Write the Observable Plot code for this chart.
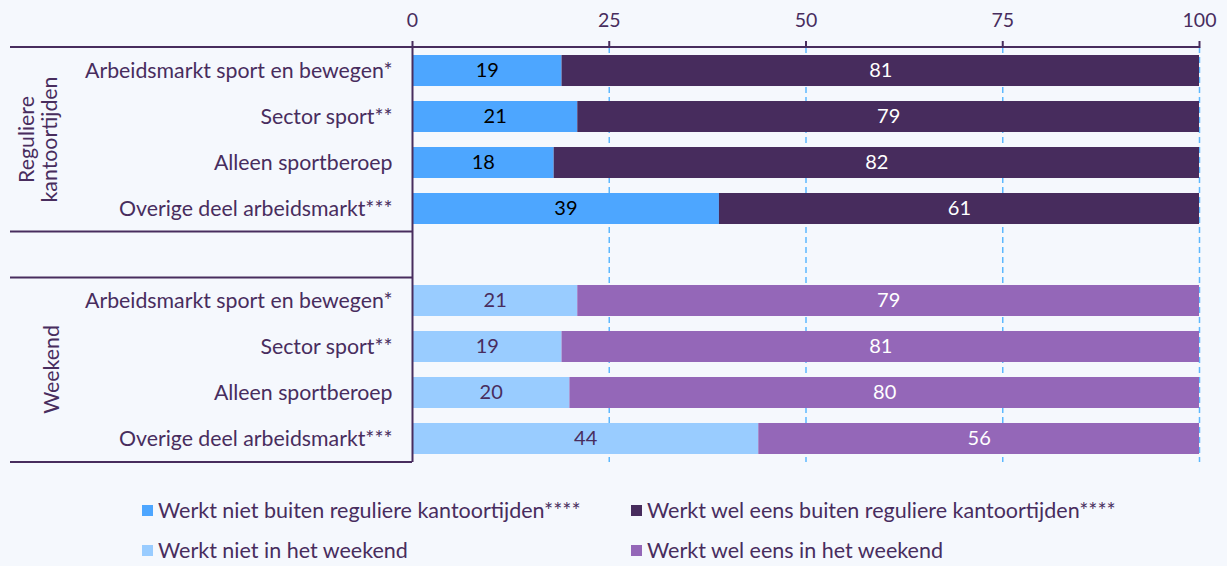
<!DOCTYPE html>
<html>
<head>
<meta charset="utf-8">
<script src="https://cdn.jsdelivr.net/npm/d3@7"></script>
<script src="https://cdn.jsdelivr.net/npm/@observablehq/plot@0.6"></script>
<style>
  html, body { margin: 0; padding: 0; background: #f5f8fd; }
  body { width: 1227px; height: 566px; overflow: hidden; font-family: Lato, "Open Sans", sans-serif; color: #482d5e; }
  #chart svg { display: block; }
  #legend { position: relative; height: 91px; }
  .item { position: absolute; display: flex; align-items: center; font-size: 21.5px; white-space: nowrap; }
  .sw { width: 11px; height: 11px; margin-right: 5px; }
</style>
</head>
<body>
<div id="chart"></div>
<div id="legend"></div>
<script>
// ---- data ----
const categories = ["Arbeidsmarkt sport en bewegen*", "Sector sport**", "Alleen sportberoep", "Overige deel arbeidsmarkt***"];
const groups = ["Reguliere kantoortijden", "Weekend"];
const regulierNiet = [19, 21, 18, 39];
const regulierWel = [81, 79, 82, 61];
const weekendNiet = [21, 19, 20, 44];
const weekendWel = [79, 81, 80, 56];
const seriesNames = [
  "Werkt niet buiten reguliere kantoortijden****",
  "Werkt wel eens buiten reguliere kantoortijden****",
  "Werkt niet in het weekend",
  "Werkt wel eens in het weekend"
];
const seriesColors = ["#4da6ff", "#472c5d", "#99ccff", "#9467b8"];
const labelColors = ["#000000", "#ffffff", "#482d5e", "#ffffff"];
const xTicks = [0, 25, 50, 75, 100];

// ---- build table ----
const keys = ["R0", "R1", "R2", "R3", "gap", "W0", "W1", "W2", "W3"];
const keyLabel = {};
categories.forEach((c, i) => { keyLabel["R" + i] = c; keyLabel["W" + i] = c; });
keyLabel.gap = "";
const rows = [];
categories.forEach((c, i) => {
  rows.push({key: "R" + i, series: seriesNames[0], value: regulierNiet[i], fc: seriesColors[0], tc: labelColors[0]});
  rows.push({key: "R" + i, series: seriesNames[1], value: regulierWel[i], fc: seriesColors[1], tc: labelColors[1]});
});
categories.forEach((c, i) => {
  rows.push({key: "W" + i, series: seriesNames[2], value: weekendNiet[i], fc: seriesColors[2], tc: labelColors[2]});
  rows.push({key: "W" + i, series: seriesNames[3], value: weekendWel[i], fc: seriesColors[3], tc: labelColors[3]});
});

const textColor = "#482d5e";
const W = 1227, H = 475, mL = 412, mR = 28, mT = 47, mB = 13;

const plot = Plot.plot({
  width: W, height: H,
  marginLeft: mL, marginRight: mR, marginTop: mT, marginBottom: mB,
  style: {background: "transparent", fontFamily: "Lato, 'Open Sans', sans-serif", fontSize: "19px", color: textColor},
  x: {domain: [0, 100]},
  y: {domain: keys, paddingInner: 0.326, paddingOuter: 0.174, round: false},
  color: {type: "identity"},
  marks: [
    Plot.ruleX(xTicks.filter(t => t > 0), {stroke: "#5cb8ff", strokeWidth: 1.5, strokeDasharray: "6,4"}),
    Plot.barX(rows, Plot.stackX({x: "value", y: "key", fill: "fc"})),
    Plot.text(rows, Plot.stackX({x: "value", y: "key", text: d => String(d.value), fill: "tc", fontSize: 20})),
    Plot.ruleX([0], {stroke: textColor, strokeWidth: 2}),
    Plot.axisX({anchor: "top", ticks: xTicks, tickSize: 7, tickPadding: 14, label: null, stroke: textColor, strokeWidth: 2, fill: textColor, fontSize: 19.5}),
    Plot.axisY({tickSize: 0, tickPadding: 20, tickFormat: k => keyLabel[k], label: null, fill: textColor, fontSize: 21.3})
  ]
});
document.getElementById("chart").appendChild(plot);

// ---- decorations derived from scales ----
const sx = plot.scale("x"), sy = plot.scale("y");
const bw = sy.bandwidth;
const yStart = k => sy.apply(k);
const step = yStart("gap") - yStart("R3");
const gapHalf = (step - bw) / 2;
const x0 = sx.apply(0), x100 = sx.apply(100);
const svg = d3.select(plot);
const g = svg.append("g").attr("stroke", textColor).attr("stroke-width", 2);
const leftEdge = 10;
const hLines = [
  [mT, x100],
  [yStart("R3") + bw + gapHalf, x0],
  [yStart("W0") - gapHalf, x0],
  [H - mB, x0]
];
hLines.forEach(([y, xe]) => g.append("line").attr("x1", leftEdge).attr("x2", xe).attr("y1", y).attr("y2", y));

// group labels
const midBetween = (a, b) => (yStart(a) + yStart(b)) / 2 + bw / 2;
const gl = svg.append("g").attr("fill", textColor).attr("font-size", 21.3).attr("text-anchor", "middle");
const t1 = gl.append("text").attr("transform", `translate(38,${midBetween("R1", "R2")}) rotate(-90)`);
t1.append("tspan").attr("x", 0).attr("dy", "-0.2em").text("Reguliere");
t1.append("tspan").attr("x", 0).attr("dy", "1.1em").text("kantoortijden");
gl.append("text").attr("transform", `translate(52,${midBetween("W1", "W2")}) rotate(-90)`).attr("dy", "0.35em").text(groups[1]);

// ---- legend ----
const legend = document.getElementById("legend");
const pos = [[142, 0], [631, 0], [142, 40], [631, 40]];
seriesNames.forEach((s, i) => {
  const it = document.createElement("div");
  it.className = "item";
  it.style.left = pos[i][0] + "px";
  it.style.top = (pos[i][1] + 22) + "px";
  const sw = document.createElement("span");
  sw.className = "sw";
  sw.style.background = seriesColors[i];
  const tx = document.createElement("span");
  tx.textContent = s;
  it.appendChild(sw); it.appendChild(tx);
  legend.appendChild(it);
});
</script>
</body>
</html>
